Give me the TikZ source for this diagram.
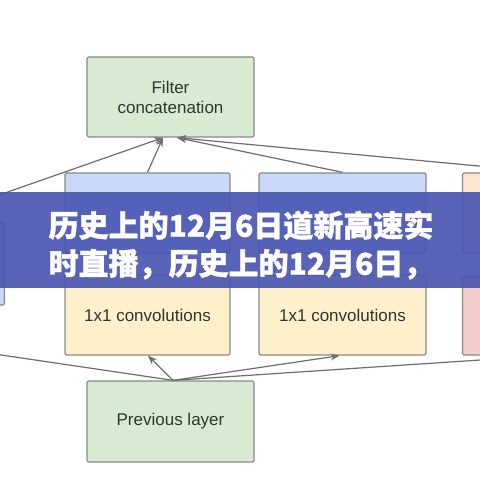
\documentclass[tikz,border=0pt]{standalone}
\usepackage{fontspec}
\setmainfont{Liberation Sans}
\newfontfamily\cjk{Noto Sans CJK SC}[BoldFeatures={FakeBold=1.2}]
\usetikzlibrary{arrows.meta}
\definecolor{gfill}{HTML}{D9EAD3}
\definecolor{bfill}{HTML}{C9DAF8}
\definecolor{yfill}{HTML}{FFF0CC}
\definecolor{ofill}{HTML}{FCE5CD}
\definecolor{pfill}{HTML}{F4CCCC}
\definecolor{bord}{HTML}{8A8A8A}
\definecolor{txt}{HTML}{333333}
\definecolor{lin}{HTML}{6E6E6E}
\definecolor{band}{RGB}{72,84,178}
\tikzset{
  box/.style={draw=bord, line width=1.3pt, rounded corners=1.5pt, text=txt,
    font=\fontsize{17}{20}\selectfont, align=center, inner sep=0pt},
  wide/.style={minimum width=167pt, minimum height=80pt},
  conn/.style={draw=lin, line width=1.2pt},
  arr/.style={conn, -{Stealth[length=9pt, width=7pt]}},
}
\begin{document}
\begin{tikzpicture}[x=1pt, y=-1pt]
\clip (0,0) rectangle (480,480);
\fill[white] (0,0) rectangle (480,480);
% nodes
\node[box, wide, fill=gfill] (filter) at (170.5,97) {Filter\\concatenation};
\node[box, wide, fill=bfill, minimum width=165pt] (b1) at (147.5,213) {};
\node[box, wide, fill=bfill] (b2) at (342.5,213) {};
\node[box, wide, fill=ofill] (b3) at (546,213) {};
\node[box, wide, fill=bfill, minimum height=82pt] (left) at (-79,264) {};
\node[box, wide, fill=yfill, minimum width=165pt] (y1) at (147.5,315) {1x1 convolutions};
\node[box, wide, fill=yfill] (y2) at (342.5,315) {1x1 convolutions};
\node[box, wide, fill=pfill, minimum height=78pt] (p1) at (546,316) {};
\node[box, wide, fill=gfill, minimum height=81pt] (prev) at (170.5,421.5) {Previous layer};
\coordinate (offL) at (-80,343);
% connectors into concatenation
\draw[arr] (left.north) -- ([xshift=-7.5pt]filter.south);
\draw[arr] (b1.north) -- ([xshift=-7.5pt]filter.south);
\draw[arr] (b2.north) -- ([xshift=6.5pt]filter.south);
\draw[arr] (b3.north) -- ([xshift=6.5pt]filter.south);
% connectors from previous layer
\draw[conn] ([xshift=2.5pt]prev.north) -- (offL);
\draw[arr] ([xshift=2.5pt]prev.north) -- ([xshift=0.5pt]y1.south);
\draw[arr] ([xshift=2.5pt]prev.north) -- ([xshift=-3pt]y2.south);
\draw[arr] ([xshift=2.5pt]prev.north) -- (p1.south);
% banner
\fill[band, opacity=0.9] (0,192) rectangle (480,288);
\node[text=white, font=\cjk\bfseries\fontsize{30}{38}\selectfont, align=center, inner sep=0pt] (title) at (241,245)
  {历史上的12月6日道新高速实\\时直播，历史上的12月6日，};
\end{tikzpicture}
\end{document}
